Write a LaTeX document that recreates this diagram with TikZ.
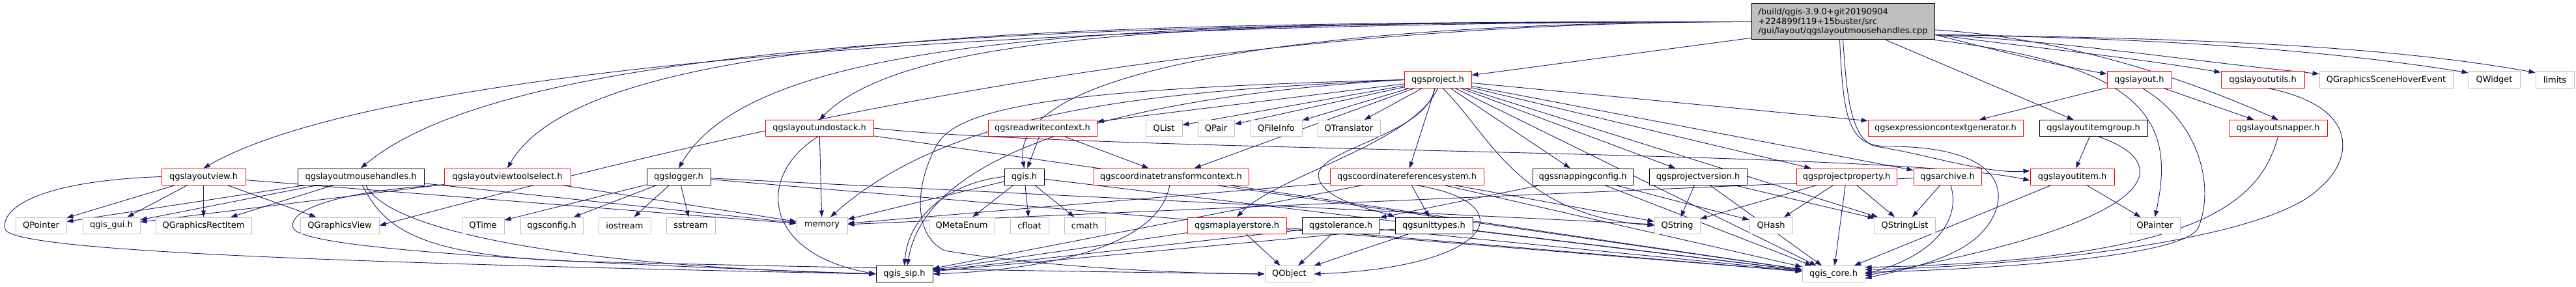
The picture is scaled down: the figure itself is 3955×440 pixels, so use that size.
\documentclass[tikz,border=0pt]{standalone}
\usepackage{fontspec}
\setmainfont{DejaVu Sans}
\usetikzlibrary{positioning, arrows.meta}
\definecolor{edgeblue}{HTML}{191970}
\definecolor{boxgrey}{HTML}{BFBFBF}
\pgfdeclarelayer{edges}
\pgfsetlayers{edges,main}

\begin{document}
\begin{tikzpicture}[
    x=1pt, y=1pt,
    font=\fontsize{13}{15}\selectfont,
    box/.style={draw, fill=white, line width=1pt, inner sep=0pt, minimum height=25pt},
    red_box/.style={box, draw=red},
    black_box/.style={box, draw=black},
    grey_box/.style={box, draw=boxgrey},
    dep/.style={draw=edgeblue, line width=0.9pt, -{Triangle[length=10pt,width=7pt]}}
]
\useasboundingbox (0,0) rectangle (3955,440);

    % --- 1. the source file ---
    \node [black_box, fill=boxgrey, minimum height=55pt, text width=260pt, inner xsep=10.5pt,
           align=left, font=\fontsize{13}{14.5}\selectfont] (main) at (2829.5,406.5)
        {/build/qgis-3.9.0+git20190904\\+224899f119+15buster/src\\/gui/layout/qgslayoutmousehandles.cpp};

    % --- 2. first row ---
    \node [red_box, minimum width=103pt] (proj) at (2207.5,317.5) {qgsproject.h};
    \node [red_box, minimum width=99pt] (layout) at (3284.5,317.5) {qgslayout.h};
    \node [red_box, minimum width=128pt] (lutils) at (3474,317.5) {qgslayoututils.h};
    \node [grey_box, minimum width=205pt] (hover) at (3663.5,317.5) {QGraphicsSceneHoverEvent};
    \node [grey_box, minimum width=79pt] (qwidget) at (3829.5,317.5) {QWidget};
    \node [grey_box, minimum width=59pt] (limits) at (3922.5,317.5) {limits};

    % --- 3. second row ---
    \node [red_box, minimum width=166pt] (undo) at (1258,243) {qgslayoutundostack.h};
    \node [red_box, minimum width=167pt] (rwctx) at (1600.5,243) {qgsreadwritecontext.h};
    \node [grey_box, minimum width=56pt] (qlist) at (1787,243) {QList};
    \node [grey_box, minimum width=56pt] (qpair) at (1867,243) {QPair};
    \node [grey_box, minimum width=79pt] (qfileinfo) at (1959.5,243) {QFileInfo};
    \node [grey_box, minimum width=96pt] (qtranslator) at (2071,243) {QTranslator};
    \node [red_box, minimum width=238pt] (exprgen) at (2987,243) {qgsexpressioncontextgenerator.h};
    \node [black_box, minimum width=166pt] (itemgroup) at (3214,243) {qgslayoutitemgroup.h};
    \node [red_box, minimum width=151pt] (snapper) at (3497.5,243) {qgslayoutsnapper.h};

    % --- 4. third row ---
    \node [red_box, minimum width=129pt] (lview) at (312.5,168.5) {qgslayoutview.h};
    \node [black_box, minimum width=194pt] (handles) at (554,168.5) {qgslayoutmousehandles.h};
    \node [red_box, minimum width=194pt] (toolsel) at (779,168.5) {qgslayoutviewtoolselect.h};
    \node [black_box, minimum width=98pt] (logger) at (1042,168.5) {qgslogger.h};
    \node [black_box, minimum width=61pt] (qgis) at (1572.5,168.5) {qgis.h};
    \node [red_box, minimum width=238pt] (ctctx) at (1798,168.5) {qgscoordinatetransformcontext.h};
    \node [red_box, minimum width=236pt] (crs) at (2160,168.5) {qgscoordinatereferencesystem.h};
    \node [black_box, minimum width=154pt] (snapcfg) at (2430,168.5) {qgssnappingconfig.h};
    \node [black_box, minimum width=150pt] (projver) at (2607,168.5) {qgsprojectversion.h};
    \node [red_box, minimum width=154pt] (projprop) at (2835,168.5) {qgsprojectproperty.h};
    \node [red_box, minimum width=104pt] (archive) at (2990,168.5) {qgsarchive.h};
    \node [red_box, minimum width=129pt] (item) at (3181.5,168.5) {qgslayoutitem.h};

    % --- 5. fourth row ---
    \node [grey_box, minimum width=78pt] (qpointer) at (63,93.5) {QPointer};
    \node [grey_box, minimum width=88pt] (qgisgui) at (171,93.5) {qgis\_gui.h};
    \node [grey_box, minimum width=147pt] (rectitem) at (312.5,93.5) {QGraphicsRectItem};
    \node [grey_box, minimum width=121pt] (gview) at (521.5,93.5) {QGraphicsView};
    \node [grey_box, minimum width=65pt] (qtime) at (741.5,93.5) {QTime};
    \node [grey_box, minimum width=96pt] (qgsconfig) at (847,93.5) {qgsconfig.h};
    \node [grey_box, minimum width=80pt] (iostream) at (959,93.5) {iostream};
    \node [grey_box, minimum width=75pt] (sstream) at (1060.5,93.5) {sstream};
    \node [grey_box, minimum width=78pt] (memory) at (1262,93.5) {memory};
    \node [grey_box, minimum width=101pt] (qmetaenum) at (1476.5,93.5) {QMetaEnum};
    \node [grey_box, minimum width=59pt] (cfloat) at (1580.5,93.5) {cfloat};
    \node [grey_box, minimum width=63pt] (cmath) at (1665.5,93.5) {cmath};
    \node [red_box, minimum width=152pt] (mlstore) at (1899,93.5) {qgsmaplayerstore.h};
    \node [black_box, minimum width=119pt] (tolerance) at (2058.5,93.5) {qgstolerance.h};
    \node [black_box, minimum width=119pt] (unittypes) at (2201.5,93.5) {qgsunittypes.h};
    \node [grey_box, minimum width=70pt] (qstring) at (2575,93.5) {QString};
    \node [grey_box, minimum width=66pt] (qhash) at (2719,93.5) {QHash};
    \node [grey_box, minimum width=93pt] (qstringlist) at (2924.5,93.5) {QStringList};
    \node [grey_box, minimum width=77pt] (qpainter) at (3308.5,93.5) {QPainter};

    % --- 6. bottom row ---
    \node [black_box, minimum width=87pt] (qgissip) at (1388.5,19) {qgis\_sip.h};
    \node [grey_box, minimum width=75pt] (qobject) at (1979.5,19) {QObject};
    \node [grey_box, minimum width=96pt] (qgiscore) at (2815,19) {qgis\_core.h};

    % --- 7. include edges ---
    \begin{pgfonlayer}{edges}
    % from the source file
    \draw [dep] (main.west) .. controls +(-1200,0) and +(260,150) .. (lview.north);
    \draw [dep] (main.west) .. controls +(-1100,0) and +(230,193) .. (handles.north);
    \draw [dep] (main.west) .. controls +(-1000,0) and +(125,216) .. (toolsel.north);
    \draw [dep] (main.west) .. controls +(-900,0) and +(125,216) .. (logger.north);
    \draw [dep] (main.west) .. controls +(-800,0) and +(141,141) .. (undo.north);
    \draw [dep] (main.west) .. controls +(-700,0) and +(-26,148) .. (qgis.north);
    \draw [dep] (main.west) .. controls +(-900,0) and +(483,129) .. (gview.east);
    \draw [dep] (main.190) -- (proj);
    \draw [dep] (main.352) .. controls +(100,-25) and +(-100,18) .. (layout.170);
    \draw [dep] (main.352) .. controls +(150,-20) and +(-150,25) .. (lutils.170);
    \draw [dep] (main.352) .. controls +(200,-10) and +(-200,20) .. (hover.175);
    \draw [dep] (main.352) .. controls +(300,-5) and +(-250,40) .. (qwidget.165);
    \draw [dep] (main.352) .. controls +(350,-5) and +(-250,45) .. (limits.160);
    \draw [dep] (main) -- (itemgroup);
    \draw [dep] (main.south east) .. controls (3300,340) and (3340,250) .. (qpainter.north);
    \draw [dep] (main.south) .. controls (2835,300) and (2840,225) .. (2880,215)
        .. controls (2950,205) and (3050,172) .. (item.172);
    \draw [dep] (main.355) .. controls (3200,380) and (3400,300) .. (snapper.north);
    \draw [dep] (main.-100) .. controls (2830,250) and (2840,215) .. (2900,215)
        .. controls (3090,215) and (3090,130) .. (3040,80)
        .. controls (3000,40) and (2920,25) .. (qgiscore.-8);

    % from qgsproject.h
    \foreach \t in {rwctx, qlist, qpair, qfileinfo, qtranslator, ctctx, crs, snapcfg,
                    projver, projprop, archive, exprgen, qgiscore, qstringlist}
        \draw [dep] (proj) -- (\t);
    \draw [dep] (proj.south) .. controls (2170,220) and (1960,170) .. (mlstore.north);
    \draw [dep] (proj.west) .. controls (1800,300) and (1470,280) .. (memory.45);
    \draw [dep] (proj.west) .. controls (1700,290) and (1420,200) .. (qgissip.70);
    \draw [dep] (proj.-60) .. controls (2290,230) and (2330,110) .. (qstring.west);
    \draw [dep] (proj.-110) .. controls (2190,230) and (2010,210) .. (2025,165)
        .. controls (2035,130) and (2120,115) .. (unittypes.north west);
    \draw [dep] (proj.west) .. controls (1700,305) and (1480,285) .. (1440,220)
        .. controls (1405,160) and (1400,80) .. (1450,55)
        .. controls (1600,30) and (1800,20) .. (qobject.west);

    % the other headers
    \foreach \s/\t in {rwctx/qgis, rwctx/ctctx,
                       logger/qtime, logger/qgsconfig, logger/iostream, logger/sstream,
                       logger/qstring, logger/qgiscore,
                       undo/memory, undo/qgiscore,
                       lview/qpointer, lview/qgisgui, lview/rectitem, lview/gview, lview/memory,
                       handles/qpointer, handles/qgisgui, handles/rectitem, handles/memory,
                       toolsel/qgisgui, toolsel/memory,
                       qgis/qmetaenum, qgis/cfloat, qgis/cmath, qgis/memory, qgis/qgiscore,
                       ctctx/qgiscore,
                       crs/unittypes, crs/qgissip, crs/qgiscore, crs/qstring, crs/memory,
                       mlstore/qobject, mlstore/qgissip, mlstore/qgiscore,
                       tolerance/qobject, tolerance/qgissip, tolerance/qgiscore,
                       unittypes/qobject, unittypes/qgissip, unittypes/qgiscore,
                       snapcfg/tolerance, snapcfg/qhash, snapcfg/qgiscore,
                       projver/qstring, projver/qstringlist, projver/qgiscore,
                       projprop/qhash, projprop/qstringlist, projprop/qgiscore, projprop/qstring,
                       archive/qstringlist, archive/memory,
                       itemgroup/item, item/qpainter, item/qgiscore,
                       layout/exprgen, layout/snapper}
        \draw [dep] (\s) -- (\t);

    % the long bends
    \draw [dep] (lview.west) .. controls (60,162) and (0,120) .. (8,88)
        .. controls (15,58) and (400,38) .. (qgissip.west);
    \draw [dep] (toolsel.south west) .. controls (560,150) and (440,125) .. (450,90)
        .. controls (460,55) and (900,35) .. (qgissip.west);
    \draw [dep] (handles.-60) .. controls (600,80) and (900,30) .. (qgissip.west);
    \draw [dep] (handles.-80) .. controls (590,90) and (640,45) .. (900,38)
        .. controls (1300,28) and (1700,22) .. (qobject.west);
    \draw [dep] (undo.-100) .. controls (1160,170) and (1170,50) .. (qgissip.west);
    \draw [dep] (qgis.west) .. controls (1460,160) and (1395,110) .. (qgissip.north);
    \draw [dep] (ctctx.-100) .. controls (1780,60) and (1600,25) .. (qgissip.east);
    \draw [dep] (crs.-45) .. controls (2340,130) and (2300,30) .. (qobject.east);
    \draw [dep] (undo.east) .. controls (1700,205) and (2900,210) .. (item.185);
    \draw [dep] (archive.-70) .. controls (3010,110) and (2980,50) .. (qgiscore.east);
    \draw [dep] (itemgroup.-60) .. controls (3340,190) and (3330,100) .. (qgiscore.-3);
    \draw [dep] (layout.-70) .. controls (3380,250) and (3400,150) .. (3375,90)
        .. controls (3350,40) and (3000,25) .. (qgiscore.3);
    \draw [dep] (lutils.-60) .. controls (3630,275) and (3610,190) .. (3560,150)
        .. controls (3480,70) and (3100,30) .. (qgiscore.8);
    \draw [dep] (snapper.south) .. controls (3470,130) and (3380,40) .. (qgiscore.12);
    \end{pgfonlayer}

\end{tikzpicture}
\end{document}
